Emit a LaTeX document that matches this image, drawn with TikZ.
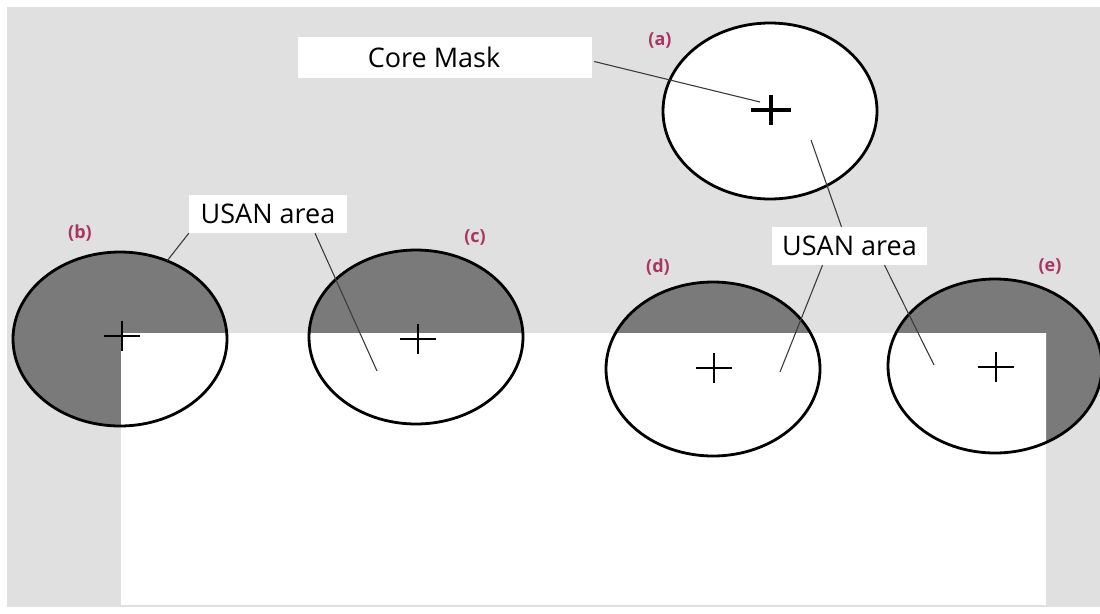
\documentclass[tikz,border=0pt]{standalone}
\usepackage{fontspec}
\setmainfont{Open Sans}
\usetikzlibrary{shapes.geometric,calc}
\definecolor{bggray}{RGB}{224,224,224}
\definecolor{darkfill}{RGB}{122,122,122}
\definecolor{tagred}{RGB}{172,52,96}
\definecolor{leadgray}{RGB}{60,60,60}
\begin{document}
\begin{tikzpicture}[x=1pt,y=-1pt,
  mask/.style={ellipse, draw=black, line width=2.8pt, minimum width=214pt, minimum height=174pt, inner sep=0pt},
  callout/.style={fill=white, inner sep=0pt, font=\fontsize{27}{32}\selectfont},
  calltext/.style={inner sep=0pt, font=\fontsize{27}{32}\selectfont},
  tag/.style={text=tagred, inner sep=0pt, font=\fontsize{18}{21}\selectfont\bfseries},
  leader/.style={draw=leadgray, line width=1.1pt},
  crossmark/.style={draw=black, line width=2.5pt}]

% page, grey field and the white region below it
\useasboundingbox (0,0) rectangle (1100,613);
\fill[white] (0,0) rectangle (1100,613);
\fill[bggray] (7,7) rectangle (1100,607);
\fill[white] (121,333) rectangle (1046,605);

% centres of the five masks
\coordinate (ca) at (770,111);
\coordinate (cb) at (120,339);
\coordinate (cc) at (416,337);
\coordinate (cd) at (713,369);
\coordinate (ce) at (995,366);

% masks b-e: dark where they lie on the grey field, white on the white region
\foreach \c in {cb,cc,cd,ce}{
  \fill[darkfill] (\c) ellipse [x radius=107, y radius=87];
  \begin{scope}
    \clip (121,333) rectangle (1046,605);
    \fill[white] (\c) ellipse [x radius=107, y radius=87];
  \end{scope}
}

% mask outlines
\node[mask, fill=white, minimum height=176pt] (a) at (ca) {};
\node[mask] (b) at (cb) {};
\node[mask] (c) at (cc) {};
\node[mask] (d) at (cd) {};
\node[mask] (e) at (ce) {};

% nucleus crosses
\coordinate (xa) at (771,110);
\coordinate (xb) at (122,336);
\coordinate (xc) at (418,339);
\coordinate (xd) at (714,368);
\coordinate (xe) at (996,367);
\draw[crossmark, line width=3.2pt] (xa) +(-20,0) -- +(20,0) (xa) +(0,-15) -- +(0,15);
\foreach \x in {xb,xc,xd,xe}{
  \draw[crossmark] (\x) +(-18,0) -- +(18,0) (\x) +(0,-15) -- +(0,15);
}

% callout boxes
\node[fill=white, inner sep=0pt, minimum width=294pt, minimum height=41pt] (corebox) at (445,57.5) {};
\node[calltext] (coretext) at (434,57) {Core Mask};
\node[callout, minimum width=158pt, minimum height=38pt] (usanL) at (268,214) {USAN area};
\node[callout, minimum width=155pt, minimum height=38pt] (usanR) at (849.5,246) {USAN area};

% leader ends
\coordinate (pa) at (760,102);
\coordinate (pa2) at (811,140);
\coordinate (pb) at (167,261);
\coordinate (pc) at (377,371);
\coordinate (pd) at (780,372);
\coordinate (pe) at (934,365);

% leader lines
\draw[leader] ($(corebox.east)+(2,4)$) -- (pa);
\draw[leader] (usanL.south west) -- (pb);
\draw[leader] ($(usanL.south)+(47,0)$) -- (pc);
\draw[leader] (pa2) -- ($(usanR.north)+(-8,0)$);
\draw[leader] ($(usanR.south)+(-27,0)$) -- (pd);
\draw[leader] ($(usanR.south)+(35,0)$) -- (pe);

% case tags
\node[tag] (ta) at (660,40) {(a)};
\node[tag] (tb) at (80,233) {(b)};
\node[tag] (tc) at (475,237) {(c)};
\node[tag] (td) at (658,267) {(d)};
\node[tag] (te) at (1050,266) {(e)};
\end{tikzpicture}
\end{document}
